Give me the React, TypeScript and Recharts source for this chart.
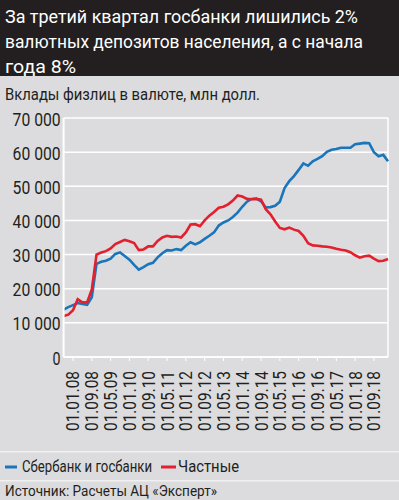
import React from "react";
import { LineChart, Line, XAxis, YAxis, CartesianGrid, ReferenceLine } from "recharts";

const FONT = "Roboto, 'DejaVu Sans Condensed', sans-serif";
const INK = "#231f20";
const BLUE = "#1a75bb";
const RED = "#e2202e";

// every two months
const dates = [
  "01.09.07", "01.11.07",
  "01.01.08", "01.03.08", "01.05.08", "01.07.08", "01.09.08", "01.11.08",
  "01.01.09", "01.03.09", "01.05.09", "01.07.09", "01.09.09", "01.11.09",
  "01.01.10", "01.03.10", "01.05.10", "01.07.10", "01.09.10", "01.11.10",
  "01.01.11", "01.03.11", "01.05.11", "01.07.11", "01.09.11", "01.11.11",
  "01.01.12", "01.03.12", "01.05.12", "01.07.12", "01.09.12", "01.11.12",
  "01.01.13", "01.03.13", "01.05.13", "01.07.13", "01.09.13", "01.11.13",
  "01.01.14", "01.03.14", "01.05.14", "01.07.14", "01.09.14", "01.11.14",
  "01.01.15", "01.03.15", "01.05.15", "01.07.15", "01.09.15", "01.11.15",
  "01.01.16", "01.03.16", "01.05.16", "01.07.16", "01.09.16", "01.11.16",
  "01.01.17", "01.03.17", "01.05.17", "01.07.17", "01.09.17", "01.11.17",
  "01.01.18", "01.03.18", "01.05.18", "01.07.18", "01.09.18", "01.11.18",
  "01.01.19", "01.03.19",
];

// Сбербанк и госбанки, млн долл.
const gosbanki = [
  13900, 14600,
  15200, 15800, 15500, 15300, 17500, 27300,
  27900, 28200, 28800, 30200, 30600, 29600,
  28500, 27000, 25600, 26300, 27200, 27600,
  29200, 30400, 31300, 31200, 31600, 31300,
  32600, 33600, 33000, 33600, 34600, 35500,
  36500, 38500, 39400, 40000, 41000, 42300,
  44000, 45500, 46300, 46400, 45600, 43800,
  43900, 44300, 45500, 49500, 51500, 53000,
  54800, 56700, 56000, 57300, 58000, 58800,
  60100, 60700, 60900, 61300, 61300, 61300,
  62300, 62500, 62700, 62600, 60000, 58800,
  59200, 57300,
];

// Частные, млн долл.
const chastnye = [
  12000, 12400,
  13700, 16900, 16000, 16000, 19800, 30000,
  30600, 31000, 31800, 33100, 33700, 34300,
  33900, 33400, 31300, 31500, 32400, 32400,
  34000, 35000, 35500, 35200, 35300, 35000,
  36500, 38800, 38900, 38300, 40000, 41400,
  42500, 43700, 44000, 44700, 45800, 47300,
  47000, 46300, 46200, 46300, 46100, 43300,
  41800, 39700, 37800, 37400, 37900, 37300,
  36900, 35500, 33300, 32700, 32600, 32400,
  32300, 32100, 31700, 31400, 31200, 30700,
  29800, 29100, 29500, 29700, 28800, 28100,
  28200, 28700,
];

const xTicks = [
  "01.01.08", "01.09.08", "01.05.09", "01.01.10", "01.09.10", "01.05.11",
  "01.01.12", "01.09.12", "01.05.13", "01.01.14", "01.09.14", "01.05.15",
  "01.01.16", "01.09.16", "01.05.17", "01.01.18", "01.09.18",
];
const yTicks = [0, 10000, 20000, 30000, 40000, 50000, 60000, 70000];

const data = dates.map((d, i) => ({ date: d, gos: gosbanki[i], priv: chastnye[i] }));

const fmtY = (v: number) => (v === 0 ? "0" : `${v / 1000} 000`);

function DateTick(props: any) {
  const { x, y, payload } = props;
  return (
    <g transform={`translate(${x},${y})`}>
      <text
        transform="rotate(-90)"
        x={-8}
        y={0}
        dy="0.36em"
        textAnchor="end"
        fill={INK}
        fontSize={18}
        fontFamily={FONT}
        textLength={60}
        lengthAdjust="spacingAndGlyphs"
      >
        {payload.value}
      </text>
    </g>
  );
}

function ValueTick(props: any) {
  const { x, y, payload } = props;
  const label = fmtY(payload.value);
  return (
    <text
      x={x}
      y={y}
      dy="0.42em"
      textAnchor="end"
      fill={INK}
      fontSize={18}
      fontFamily={FONT}
      textLength={label.length > 1 ? 48 : 8}
      lengthAdjust="spacingAndGlyphs"
    >
      {label}
    </text>
  );
}

// condensed text: squeezed horizontally, then fitted to the width measured on the reference
const SQUEEZE = 0.8;
function Txt(props: { x: number; y: number; w: number; size: number; fill?: string; children: string }) {
  return (
    <g transform={`translate(${props.x},${props.y}) scale(${SQUEEZE},1)`}>
      <text
        x={0}
        y={0}
        fontSize={props.size}
        fontFamily={FONT}
        fill={props.fill || INK}
        textLength={props.w / SQUEEZE}
        lengthAdjust="spacingAndGlyphs"
      >
        {props.children}
      </text>
    </g>
  );
}

export default function App() {
  return (
    <div
      style={{
        position: "absolute",
        left: 0,
        top: 0,
        width: 399,
        height: 500,
        background: "#dcdcde",
        overflow: "hidden",
      }}
    >
      <div style={{ position: "absolute", left: 0, top: 0 }}>
        <LineChart width={399} height={450} data={data} margin={{ top: 118, right: 11, left: 3.6, bottom: 13 }}>
          <CartesianGrid vertical={false} stroke="#ffffff" strokeWidth={1.5} />
          <XAxis
            dataKey="date"
            ticks={xTicks}
            interval={0}
            height={80}
            tick={<DateTick />}
            tickSize={4}
            tickMargin={2}
            tickLine={{ stroke: "#ffffff" }}
            axisLine={{ stroke: "#ffffff", strokeWidth: 1.5 }}
          />
          <YAxis
            domain={[0, 70000]}
            ticks={yTicks}
            interval={0}
            width={60}
            tickSize={0}
            tickMargin={3}
            tickLine={false}
            axisLine={{ stroke: "#ffffff", strokeWidth: 2 }}
            tick={<ValueTick />}
          />
          <ReferenceLine x="01.03.19" stroke="#ffffff" strokeWidth={1.5} />
          <Line type="linear" dataKey="gos" stroke={BLUE} strokeWidth={2.6} dot={false} isAnimationActive={false} />
          <Line type="linear" dataKey="priv" stroke={RED} strokeWidth={2.6} dot={false} isAnimationActive={false} />
        </LineChart>
      </div>

      <svg width={399} height={500} style={{ position: "absolute", left: 0, top: 0, pointerEvents: "none" }}>
        <rect x={0} y={0} width={399} height={76} fill={INK} />
        <Txt x={5} y={22.7} w={353} size={19} fill="#ffffff">За третий квартал госбанки лишились 2%</Txt>
        <Txt x={5} y={47.7} w={358} size={19} fill="#ffffff">валютных депозитов населения, а с начала</Txt>
        <Txt x={5} y={72.7} w={71} size={19} fill="#ffffff">года 8%</Txt>
        <Txt x={5} y={99.5} w={255} size={17}>Вклады физлиц в валюте, млн долл.</Txt>

        <rect x={0} y={451} width={399} height={1.5} fill="#f0f0f0" />
        <rect x={5} y={465.5} width={12} height={3} fill={BLUE} />
        <Txt x={22} y={471.7} w={130} size={17}>Сбербанк и госбанки</Txt>
        <rect x={161} y={465.5} width={15} height={3} fill={RED} />
        <Txt x={178} y={471.7} w={61} size={17}>Частные</Txt>
        <rect x={0} y={480} width={399} height={1.5} fill="#f0f0f0" />
        <Txt x={5} y={496} w={212} size={15.5}>Источник: Расчеты АЦ «Эксперт»</Txt>
      </svg>
    </div>
  );
}
